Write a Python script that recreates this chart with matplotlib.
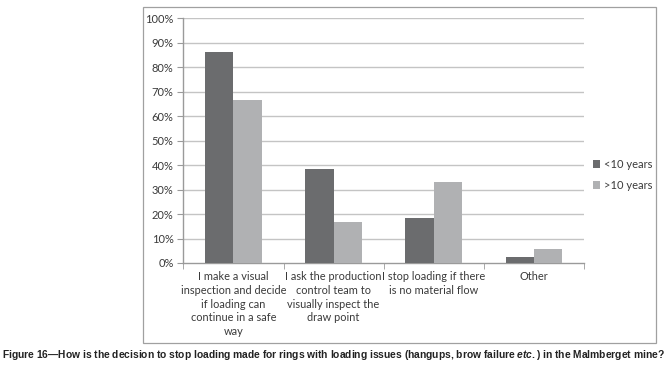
import matplotlib
matplotlib.use("Agg")
import matplotlib.pyplot as plt
from matplotlib.patches import Rectangle
import numpy as np

categories = [
    "I make a visual\ninspection and decide\nif loading can\ncontinue in a safe\nway",
    "I ask the production\ncontrol team to\nvisually inspect the\ndraw point",
    "I stop loading if there\nis no material flow",
    "Other",
]
series_names = ["<10 years", ">10 years"]
under10 = [86.4, 38.6, 18.2, 2.3]
over10 = [66.7, 16.7, 33.3, 5.6]
yticks = [0, 10, 20, 30, 40, 50, 60, 70, 80, 90, 100]

dark = "#6b6c6e"
light = "#b0b1b3"
grid_c = "#c4c4c4"
axis_c = "#9a9a9a"
text_c = "#3a3a3a"

plt.rcParams['font.family'] = ['Lato', 'DejaVu Sans']
plt.rcParams['mathtext.fontset'] = 'custom'
plt.rcParams['mathtext.it'] = 'Liberation Sans:italic:bold'
plt.rcParams['mathtext.rm'] = 'Liberation Sans:bold'

fig = plt.figure(figsize=(6.67, 3.70), dpi=100)
fig.patches.append(Rectangle((0.2148, 0.0722), 0.7687, 0.909, transform=fig.transFigure,
                             fill=False, edgecolor="#a0a0a0", linewidth=0.9))

ax = fig.add_axes([0.2748, 0.2892, 0.601, 0.6613])
x = np.arange(len(categories))
w = 0.283
ax.bar(x - w / 2, under10, width=w, color=dark, label=series_names[0], zorder=3)
ax.bar(x + w / 2, over10, width=w, color=light, label=series_names[1], zorder=3)

ax.set_xlim(-0.5, len(categories) - 0.5)
ax.set_ylim(0, 100)
ax.set_yticks(yticks)
ax.set_yticklabels([f"{v}%" for v in yticks], fontsize=8, color=text_c)
for v in yticks[1:]:
    ax.axhline(v, color=grid_c, linewidth=1.0, zorder=1)

ax.set_xticks(x)
ax.set_xticklabels(categories, fontsize=7.9, color=text_c, linespacing=1.3, va="top")
ax.set_xticks(np.arange(len(categories) + 1) - 0.5, minor=True)
ax.tick_params(axis="x", which="major", length=0, pad=6)
ax.tick_params(axis="x", which="minor", length=4, color=axis_c, direction="out")
ax.tick_params(axis="y", length=4, color=axis_c, direction="out", pad=3)

for s in ["top", "right"]:
    ax.spines[s].set_visible(False)
for s in ["left", "bottom"]:
    ax.spines[s].set_color(axis_c)
    ax.spines[s].set_linewidth(1.0)

leg = ax.legend(loc="center left", bbox_to_anchor=(1.01, 0.36), frameon=False,
                fontsize=8, handlelength=0.7, handleheight=0.7, handletextpad=0.3,
                labelspacing=0.85, borderaxespad=0)
for t in leg.get_texts():
    t.set_color(text_c)

fig.text(0.5, 0.04,
         "Figure 16\u2014How is the decision to stop loading made for rings with loading issues (hangups, brow failure $\\it{etc.}$) in the Malmberget mine?",
         ha="center", va="center", fontsize=7.35, fontweight="bold", color="#222222",
         family=["Liberation Sans", "DejaVu Sans"])

fig.savefig("out.png", dpi=100)
